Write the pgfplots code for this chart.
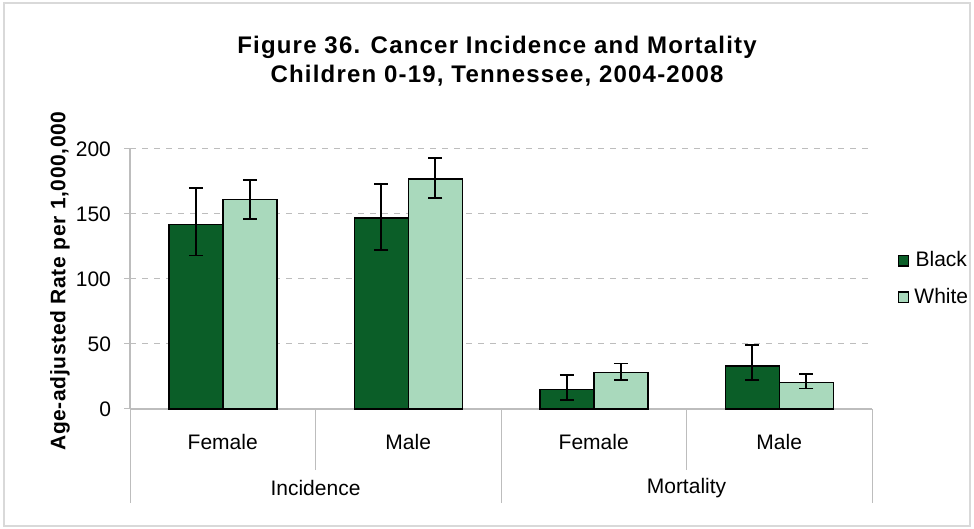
\documentclass[border=0pt]{standalone}
\usepackage{fontspec}
\setmainfont{Liberation Sans}
\usepackage{pgfplots}
\pgfplotsset{compat=1.18}
\definecolor{darkgr}{HTML}{0B5E28}
\definecolor{lightgr}{HTML}{A9D9BC}
\definecolor{gridgr}{HTML}{BDBDBD}
\pgfplotsset{errs/.style={error bars/.cd, y dir=both, y explicit,
  error mark options={rotate=90, mark size=3.5pt, black, line width=0.9pt},
  error bar style={black, line width=0.9pt}}}
\begin{document}
\begin{tikzpicture}
\useasboundingbox (0,0) rectangle (487pt,264.5pt);
\draw[gray!30, line width=0.6pt] (2pt,1.5pt) rectangle (485pt,263pt);
\node[font=\bfseries\fontsize{12}{14.5}\selectfont\addfontfeatures{LetterSpace=5}, align=center] at (248.5pt,233.8pt)
  {Figure 36. Cancer Incidence and Mortality\\Children 0-19, Tennessee, 2004-2008};
\node[font=\bfseries\fontsize{10.5}{12}\selectfont\addfontfeatures{LetterSpace=3}, rotate=90] at (30pt,124pt)
  {Age-adjusted Rate per 1,000,000};
\begin{axis}[
  at={(65pt,60pt)}, anchor=south west,
  scale only axis, width=371pt, height=130pt,
  ybar=0pt, bar width=27pt,
  xmin=-0.5, xmax=3.5, ymin=0, ymax=200,
  ytick={0,50,100,150,200},
  xtick={0,1,2,3}, xticklabels={Female,Male,Female,Male},
  x tick label style={font=\fontsize{10.5}{12}\selectfont, yshift=-6pt},
  y tick label style={font=\fontsize{10.5}{12}\selectfont, xshift=-3pt},
  /pgf/number format/assume math mode=true,
  major x tick style={draw=none},
  y tick style={gridgr, line width=0.5pt},
  tick align=outside, major tick length=3pt,
  ymajorgrids, grid style={gridgr, dashed, line width=0.5pt},
  axis line style={gridgr, line width=0.6pt},
  axis x line*=bottom, axis y line*=left,
  clip=false,
  legend style={at={(1.034,0.5)}, anchor=west, draw=none, fill=none,
    font=\fontsize{10.5}{12}\selectfont, row sep=5pt, inner sep=0pt,
    /tikz/every odd column/.append style={column sep=0.5pt}},
  legend image code/.code={\draw[#1, line width=0.6pt] (0pt,-2.6pt) rectangle (5.3pt,2.6pt);},
]
\addplot[fill=darkgr, draw=black, line width=0.75pt, errs] coordinates {
  (0,142) += (0,28) -= (0,24)
  (1,147) += (0,26) -= (0,25)
  (2,15) += (0,11) -= (0,8)
  (3,33) += (0,16) -= (0,11)
};
\addplot[fill=lightgr, draw=black, line width=0.75pt, errs] coordinates {
  (0,161) += (0,15) -= (0,15)
  (1,177) += (0,16) -= (0,15)
  (2,28) += (0,7) -= (0,5.5)
  (3,20.5) += (0,6.5) -= (0,4.8)
};
\legend{Black,White}
\draw[gridgr, line width=0.5pt] (axis cs:0.5,0) -- ([yshift=-30.5pt]axis cs:0.5,0);
\draw[gridgr, line width=0.5pt] (axis cs:2.5,0) -- ([yshift=-30.5pt]axis cs:2.5,0);
\draw[gridgr, line width=0.5pt] (axis cs:-0.5,0) -- ([yshift=-47pt]axis cs:-0.5,0);
\draw[gridgr, line width=0.5pt] (axis cs:1.5,0) -- ([yshift=-47pt]axis cs:1.5,0);
\draw[gridgr, line width=0.5pt] (axis cs:3.5,0) -- ([yshift=-47pt]axis cs:3.5,0);
\node[font=\fontsize{10.5}{12}\selectfont] at ([yshift=-39.5pt]axis cs:0.5,0) {Incidence};
\node[font=\fontsize{10.5}{12}\selectfont] at ([yshift=-39.5pt]axis cs:2.5,0) {Mortality};
\end{axis}
\end{tikzpicture}
\end{document}
